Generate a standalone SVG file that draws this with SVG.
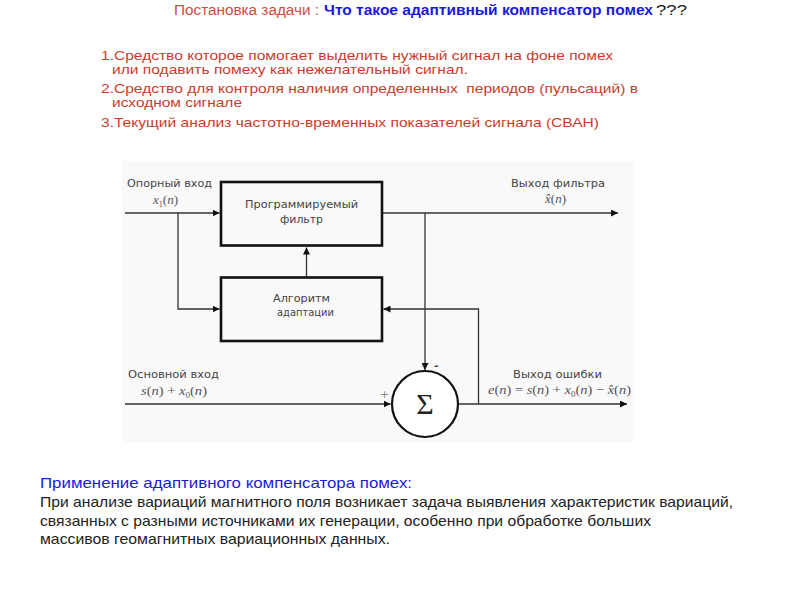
<svg xmlns="http://www.w3.org/2000/svg" width="800" height="600" viewBox="0 0 800 600">
<style>
.title{font-family:"Liberation Sans",Arial,sans-serif;font-size:14px}
.li{font-family:"Liberation Sans",Arial,sans-serif;font-size:13px;fill:#c93c2c}
.lbl{font-family:"DejaVu Sans",Verdana,sans-serif;font-size:11px;fill:#444}
.box{fill:none;stroke:#111;stroke-width:2.6}
.ln{fill:none;stroke:#333;stroke-width:1.3}
.m{font-family:"Liberation Serif","Times New Roman",serif;font-size:13px;fill:#555;font-style:italic}
.u{font-style:normal}
.bt{font-family:"Liberation Sans",Arial,sans-serif;font-size:14.5px;fill:#222}
.bh{font-family:"Liberation Sans",Arial,sans-serif;font-size:14.5px;fill:#1a1adf}
</style>
<defs>
<marker id="ah" viewBox="0 0 10 10" refX="10" refY="5" markerWidth="7" markerHeight="7" markerUnits="userSpaceOnUse" orient="auto">
<path d="M0,0 L10,5 L0,10 z" fill="#111"/>
</marker>
</defs>
<rect width="800" height="600" fill="#fff"/>
<g id="title">
<text class="title" x="174" y="15"><tspan style="fill:#d24b3e" textLength="145" lengthAdjust="spacingAndGlyphs">Постановка задачи :</tspan><tspan x="324" style="fill:#1a1adf;font-weight:bold" textLength="329" lengthAdjust="spacingAndGlyphs">Что такое адаптивный компенсатор помех</tspan><tspan x="656" style="fill:#222" textLength="31" lengthAdjust="spacingAndGlyphs">???</tspan></text>
</g>
<g id="list">
<text class="li" x="101" y="60" textLength="512" lengthAdjust="spacingAndGlyphs">1.Средство которое помогает выделить нужный сигнал на фоне помех</text>
<text class="li" x="112" y="74" textLength="356" lengthAdjust="spacingAndGlyphs">или подавить помеху как нежелательный сигнал.</text>
<text class="li" x="101" y="93" textLength="537" lengthAdjust="spacingAndGlyphs" style="white-space:pre">2.Средство для контроля наличия определенных  периодов (пульсаций) в</text>
<text class="li" x="112" y="107" textLength="130" lengthAdjust="spacingAndGlyphs">исходном сигнале</text>
<text class="li" x="101" y="127" textLength="498" lengthAdjust="spacingAndGlyphs">3.Текущий анализ частотно-временных показателей сигнала (СВАН)</text>
</g>
<rect id="panel" x="122" y="161" width="511" height="282" fill="#f9f9f9"/>
<g id="connectors">
<path class="ln" d="M125,213 H219.5" marker-end="url(#ah)"/>
<path class="ln" d="M178,213 V309 H219.5" marker-end="url(#ah)"/>
<path class="ln" d="M382,213 H618" marker-end="url(#ah)"/>
<path class="ln" d="M425,213 V370" marker-end="url(#ah)"/>
<path class="ln" d="M306.5,277 V247.5" marker-end="url(#ah)"/>
<path class="ln" d="M125,404 H390.5" marker-end="url(#ah)"/>
<path class="ln" d="M458,404 H627" marker-end="url(#ah)"/>
<path class="ln" d="M478.5,404 V309 H383.5" marker-end="url(#ah)"/>
</g>
<g id="labels">
<text class="lbl" x="127" y="187" textLength="85" lengthAdjust="spacingAndGlyphs">Опорный вход</text>
<text class="m" x="153" y="204" font-size="14">x<tspan class="u" font-size="8" dy="2.5">1</tspan><tspan class="u" dy="-2.5">(</tspan>n<tspan class="u">)</tspan></text>
<text class="lbl" x="511" y="187" textLength="94" lengthAdjust="spacingAndGlyphs">Выход фильтра</text>
<text class="m" x="545" y="203">x&#770;<tspan class="u">(</tspan>n<tspan class="u">)</tspan></text>
<text class="lbl" x="128" y="378" textLength="91" lengthAdjust="spacingAndGlyphs">Основной вход</text>
<text class="m" x="141" y="395" textLength="66" lengthAdjust="spacingAndGlyphs">s<tspan class="u">(</tspan>n<tspan class="u">) + </tspan>x<tspan class="u" font-size="8" dy="2.5">0</tspan><tspan class="u" dy="-2.5">(</tspan>n<tspan class="u">)</tspan></text>
<text class="lbl" x="513" y="378" textLength="89" lengthAdjust="spacingAndGlyphs">Выход ошибки</text>
<text class="m" x="488" y="394" textLength="143" lengthAdjust="spacingAndGlyphs">e<tspan class="u">(</tspan>n<tspan class="u">) = </tspan>s<tspan class="u">(</tspan>n<tspan class="u">) + </tspan>x<tspan class="u" font-size="8" dy="2.5">0</tspan><tspan class="u" dy="-2.5">(</tspan>n<tspan class="u">) − </tspan>x&#770;<tspan class="u">(</tspan>n<tspan class="u">)</tspan></text>
<text class="lbl" x="380" y="398" style="fill:#888">+</text>
<text class="lbl" x="434" y="369" font-weight="bold">-</text>
</g>
<g id="filter">
<rect class="box" x="221" y="182" width="161" height="63.5" fill="#fff"/>
<text class="lbl" x="245" y="208" textLength="113" lengthAdjust="spacingAndGlyphs">Программируемый</text>
<text class="lbl" x="280" y="223" textLength="43" lengthAdjust="spacingAndGlyphs">фильтр</text>
</g>
<g id="adapt">
<rect class="box" x="221" y="277.5" width="161" height="63.5" fill="#fff"/>
<text class="lbl" x="273" y="302" textLength="57" lengthAdjust="spacingAndGlyphs">Алгоритм</text>
<text class="lbl" x="277" y="316" textLength="57" lengthAdjust="spacingAndGlyphs">адаптации</text>
</g>
<g id="sum">
<circle cx="425" cy="404" r="33" fill="#fff" stroke="#111" stroke-width="2.2"/>
<text x="425" y="414" text-anchor="middle" font-family="'Liberation Serif','Times New Roman',serif" font-size="30" fill="#222">Σ</text>
</g>
<g id="bottom">
<text class="bh" x="40" y="488" textLength="372" lengthAdjust="spacingAndGlyphs">Применение адаптивного компенсатора помех:</text>
<text class="bt" x="40" y="507" textLength="693" lengthAdjust="spacingAndGlyphs">При анализе вариаций магнитного поля возникает задача выявления характеристик вариаций,</text>
<text class="bt" x="40" y="526" textLength="611" lengthAdjust="spacingAndGlyphs">связанных с разными источниками их генерации, особенно при обработке больших</text>
<text class="bt" x="40" y="544" textLength="350" lengthAdjust="spacingAndGlyphs">массивов геомагнитных вариационных данных.</text>
</g>
</svg>
